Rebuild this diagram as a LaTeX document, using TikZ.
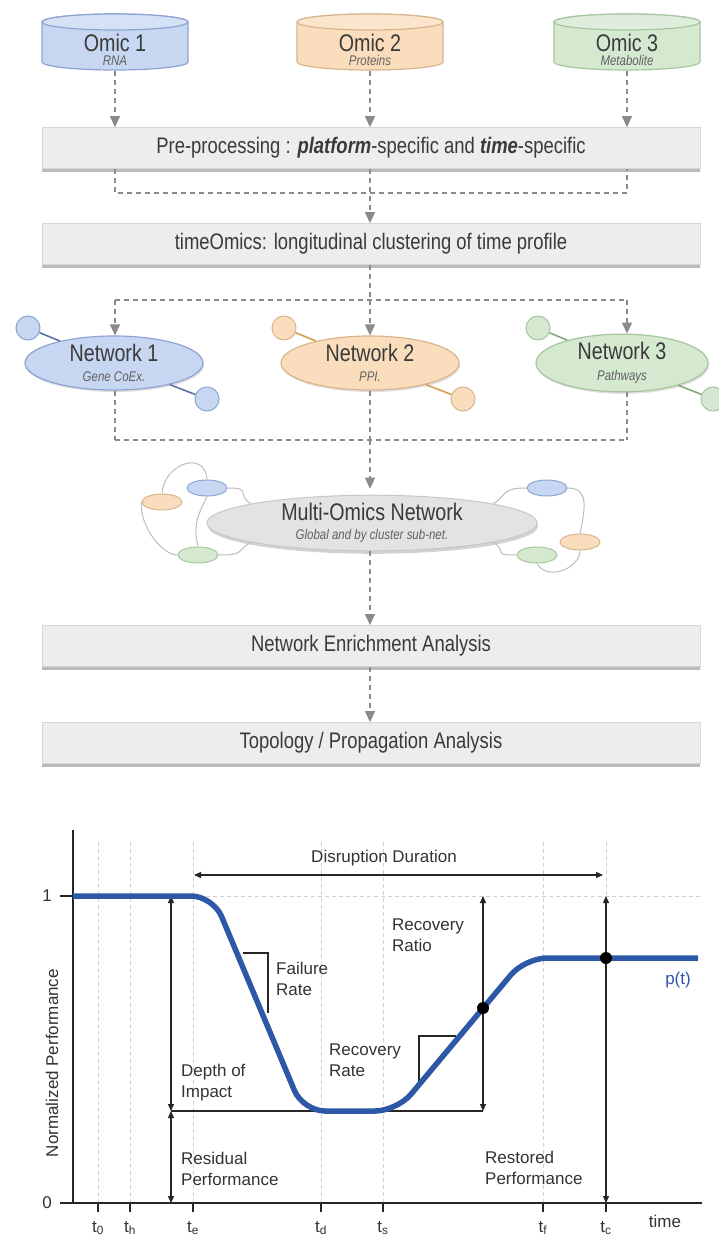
\documentclass[tikz,border=0pt]{standalone}
\usepackage{fontspec}
\setmainfont{Liberation Sans}
\newfontfamily\narrowfont{Liberation Sans}[FakeStretch=0.82]
\usetikzlibrary{arrows.meta,shapes.geometric,shadows}

\definecolor{dashgrey}{HTML}{8A8A8A}
\definecolor{boxgrey}{HTML}{EDEDED}
\definecolor{boxedge}{HTML}{D6D6D6}
\definecolor{txtdark}{HTML}{3A3A3A}
\definecolor{txtsub}{HTML}{616161}
\definecolor{txtplot}{HTML}{333333}
\definecolor{blueF}{HTML}{C7D7F2}
\definecolor{blueD}{HTML}{8DA4D2}
\definecolor{blueL}{HTML}{5C72A8}
\definecolor{orangeF}{HTML}{FADDBC}
\definecolor{orangeD}{HTML}{D9B58E}
\definecolor{orangeL}{HTML}{D79E4E}
\definecolor{greenF}{HTML}{D5E9D0}
\definecolor{greenD}{HTML}{A7C69F}
\definecolor{greenL}{HTML}{84A97C}
\definecolor{linkgrey}{HTML}{BDBDBD}
\definecolor{perfblue}{HTML}{2D58A5}
\definecolor{gridgrey}{HTML}{D0D0D0}
\definecolor{axisblack}{HTML}{262626}

\newcommand*{\omicfont}{\narrowfont\fontsize{24}{14.5}\selectfont}
\newcommand*{\omicsub}{\narrowfont\itshape\fontsize{14}{14.5}\selectfont\color{txtsub}}
\newcommand*{\stagefont}{\narrowfont\fontsize{22.5}{26}\selectfont}
\newcommand*{\plotfont}{\fontsize{17}{21}\selectfont}

\tikzset{
  omic/.style={rectangle, minimum width=146pt, minimum height=40pt, inner sep=0pt, outer sep=0pt},
  omictxt/.style={font=\omicfont, text=txtdark, align=center, inner sep=0pt},
  stage/.style={rectangle, fill=boxgrey, draw=boxedge, line width=0.8pt, minimum width=658pt,
    minimum height=41pt, font=\stagefont, text=txtdark,
    drop shadow={shadow xshift=0pt, shadow yshift=-3pt, fill=black!60, opacity=0.45}},
  netnode/.style={ellipse, minimum width=178pt, minimum height=54pt, inner sep=0pt, line width=1.2pt,
    font=\omicfont, text=txtdark, align=center,
    drop shadow={shadow xshift=1pt, shadow yshift=-2pt, opacity=0.25}},
  satdot/.style={circle, minimum size=24pt, inner sep=0pt, line width=1pt},
  mini/.style={ellipse, minimum width=40pt, minimum height=16pt, inner sep=0pt, line width=1pt},
  linkline/.style={draw=linkgrey, line width=1pt},
  flow/.style={draw=dashgrey, line width=1.2pt, dash pattern=on 5pt off 4pt,
    -{Triangle[width=10pt,length=11pt]}},
  dline/.style={draw=dashgrey, line width=1.2pt, dash pattern=on 5pt off 4pt},
  gridline/.style={draw=gridgrey, line width=1pt, dash pattern=on 4pt off 3pt},
  axisline/.style={draw=axisblack, line width=2.2pt},
  dimarrow/.style={draw=axisblack, line width=1.3pt,
    {Triangle[width=6pt,length=7pt]}-{Triangle[width=6pt,length=7pt]}},
  bracket/.style={draw=axisblack, line width=1.3pt},
  perf/.style={draw=perfblue, line width=5.5pt, rounded corners=22pt},
  plot/.style={font=\plotfont, text=txtplot, inner sep=1pt},
  plotlbl/.style={plot, align=left, anchor=west, inner sep=0pt},
  bigdot/.style={circle, fill=black, minimum size=12pt, inner sep=0pt}
}

\begin{document}
\begin{tikzpicture}[x=1pt,y=-1pt]
\useasboundingbox (0,0) rectangle (719,1239);
\fill[white] (0,0) rectangle (719,1239);

%omics:
\node[omic] (omA) at (115,42) {};
\node[omic] (omB) at (370,42) {};
\node[omic] (omC) at (627,42) {};
\foreach \n/\f/\d in {omA/blueF/blueD, omB/orangeF/orangeD, omC/greenF/greenD}{
  \draw[draw=\d, fill=\f, line width=1.2pt] (\n.north west) -- (\n.south west)
    arc[start angle=180, end angle=360, x radius=73pt, y radius=8pt]
    -- (\n.north east) arc[start angle=0, end angle=180, x radius=73pt, y radius=8pt] -- cycle;
  \draw[draw=\d, fill=\f!75!white, line width=1.2pt] (\n.north) ellipse [x radius=73pt, y radius=8pt];
}
\node[omictxt] (omAt) at (115,50) {Omic 1\\{\omicsub RNA}};
\node[omictxt] (omBt) at (370,50) {Omic 2\\{\omicsub Proteins}};
\node[omictxt] (omCt) at (627,50) {Omic 3\\{\omicsub Metabolite}};

%stages:
\node[stage] (prep) at (371,148) {Pre-processing : \textbf{\textit{platform}}-specific and \textbf{\textit{time}}-specific};
\node[stage] (tom) at (371,244) {timeOmics: longitudinal clustering of time profile};

%networks:
\node[netnode, fill=blueF, draw=blueD] (net1) at (114,363) {Network 1\\[6pt]{\omicsub Gene CoEx.}};
\node[netnode, fill=orangeF, draw=orangeD] (net2) at (370,363) {Network 2\\[6pt]{\omicsub PPI.}};
\node[netnode, fill=greenF, draw=greenD, minimum width=172pt] (net3) at (622,363) {Network 3\\[6pt]{\omicsub Pathways}};
\node[satdot, fill=blueF, draw=blueD] (n1a) at ([shift={(-86,-35)}]net1.center) {};
\node[satdot, fill=blueF, draw=blueD] (n1b) at ([shift={(93,36)}]net1.center) {};
\node[satdot, fill=orangeF, draw=orangeD] (n2a) at ([shift={(-86,-35)}]net2.center) {};
\node[satdot, fill=orangeF, draw=orangeD] (n2b) at ([shift={(93,36)}]net2.center) {};
\node[satdot, fill=greenF, draw=greenD] (n3a) at ([shift={(-84,-35)}]net3.center) {};
\node[satdot, fill=greenF, draw=greenD] (n3b) at ([shift={(91,36)}]net3.center) {};
\draw[blueL, line width=1.6pt] (n1a) -- (net1) (net1) -- (n1b);
\draw[orangeL, line width=1.6pt] (n2a) -- (net2) (net2) -- (n2b);
\draw[greenL, line width=1.6pt] (n3a) -- (net3) (net3) -- (n3b);

%multi-omics:
\node[ellipse, minimum width=330pt, minimum height=44pt, inner sep=0pt, fill=black!11, draw=black!22,
  line width=1pt, font=\omicfont, text=txtdark, align=center,
  drop shadow={shadow xshift=1pt, shadow yshift=-3pt, opacity=0.35}] (mo) at (372,523)
  {Multi-Omics Network\\[4.5pt]{\omicsub Global and by cluster sub-net.}};
\node[mini, fill=orangeF, draw=orangeD] (lo) at (162,502) {};
\node[mini, fill=blueF, draw=blueD] (lb) at (207,488) {};
\node[mini, fill=greenF, draw=greenD] (lg) at (198,555) {};
\node[mini, fill=blueF, draw=blueD] (rb) at (547,488) {};
\node[mini, fill=orangeF, draw=orangeD] (ro) at (580,542) {};
\node[mini, fill=greenF, draw=greenD] (rg) at (537,555) {};
\draw[linkline] (lo.north) .. controls +(2,-30) and +(-2,-30) .. (lb.north);
\draw[linkline] (lb.east) .. controls +(25,0) and +(-15,-10) .. (mo.171);
\draw[linkline] (lo.west) .. controls +(-2,25) and +(-15,0) .. (lg.west);
\draw[linkline] (lb.south) .. controls +(-10,20) and +(-5,-20) .. (lg.north);
\draw[linkline] (lg.east) .. controls +(25,0) and +(-15,10) .. (mo.189);
\draw[linkline] (rb.west) .. controls +(-25,0) and +(15,-10) .. (mo.9);
\draw[linkline] (rb.east) .. controls +(22,0) and +(5,-25) .. (ro.north);
\draw[linkline] (rg.south) .. controls +(10,18) and +(0,18) .. (ro.south);
\draw[linkline] (rg.west) .. controls +(-25,0) and +(15,10) .. (mo.351);

\node[stage] (enr) at (371,646) {Network Enrichment Analysis};
\node[stage] (topo) at (371,743) {Topology / Propagation Analysis};

%connectors:
\coordinate (j1) at (370,193);
\coordinate (j2) at (370,300);
\coordinate (j3) at (370,440);
\foreach \n in {omA,omB,omC}
  \draw[flow, shorten <=9pt] (\n.south) -- (\n.south |- prep.north);
\draw[dline] (prep.south -| omA) -- (omA |- j1) -- (omC |- j1) -- (prep.south -| omC);
\draw[flow] (prep.south -| omB) -- (omB |- tom.north);
\draw[dline] (tom.south -| omB) -- (j2);
\draw[dline] (omA |- j2) -- (omC |- j2);
\foreach \n/\m in {omA/net1, omB/net2, omC/net3}{
  \draw[flow] (\n |- j2) -- (\n |- \m.north);
  \draw[dline] (\n |- \m.south) -- (\n |- j3);
}
\draw[dline] (omA |- j3) -- (omC |- j3);
\draw[flow, shorten >=6pt] (j3) -- (omB |- mo.north);
\draw[flow] (omB |- mo.south) -- (omB |- enr.north);
\draw[flow] (omB |- enr.south) -- (omB |- topo.north);

%performance plot:
\newcommand*{\yA}{896}
\newcommand*{\yZ}{1203}
\newcommand*{\yR}{1111}
\newcommand*{\yP}{958}

\foreach \tx in {98,130,193,321,383,543,606}
  \draw[gridline] (\tx,842) -- (\tx,\yZ);
\draw[gridline] (73,\yA) -- (700,\yA);

%axes:
\draw[axisline] (73,830) -- (73,\yZ);
\draw[axisline] (60,\yZ) -- (702,\yZ);
\draw[axisline] (60,\yA) -- (73,\yA);
\node[plot] (one) at (47,\yA) {1};
\node[plot] (zero) at (47,\yZ) {0};
\foreach \tx/\tn in {98/0,130/h,193/e,321/d,383/s,543/f,606/c}{
  \draw[axisline] (\tx,\yZ) -- (\tx,1212);
  \node[plot] (t\tn) at (\tx,1228) {t\textsubscript{\tn}};
}
\node[plot] (timelbl) at (665,1221) {time};
\node[plot, rotate=90] (ylbl) at (52,1063) {Normalized Performance};

%measures:
\draw[dimarrow] (194,875) -- (603,875);
\node[plot] (disr) at (384,858) {Disruption Duration};
\draw[dimarrow] (171,\yA) -- (171,\yR);
\draw[dimarrow] (171,\yR) -- (171,\yZ);
\draw[bracket] (171,\yR) -- (483,\yR);
\draw[dimarrow] (483,\yA) -- (483,\yR);
\draw[dimarrow] (606,\yA) -- (606,\yZ);
\draw[bracket] (243,953) -- (268,953) -- (268,1013);
\draw[bracket] (419,1087) -- (419,1036) -- (456,1036);

%curve:
\draw[perf] (73,\yA) -- (213,\yA) -- (303,\yR) -- (397,\yR) -- (525,\yP) -- (698,\yP);
\node[bigdot] (rrdot) at (483,1008) {};
\node[bigdot] (tcdot) at (606,\yP) {};
\node[plot, text=perfblue] (ptlbl) at (678,980) {p(t)};

\node[plotlbl] (fail) at (276,979) {Failure\\Rate};
\node[plotlbl] (depth) at (181,1083) {Depth of\\Impact};
\node[plotlbl] (resid) at (181,1169) {Residual\\Performance};
\node[plotlbl] (rrate) at (329,1060) {Recovery\\Rate};
\node[plotlbl] (rratio) at (392,935) {Recovery\\Ratio};
\node[plotlbl] (rest) at (485,1168) {Restored\\Performance};

\end{tikzpicture}
\end{document}
